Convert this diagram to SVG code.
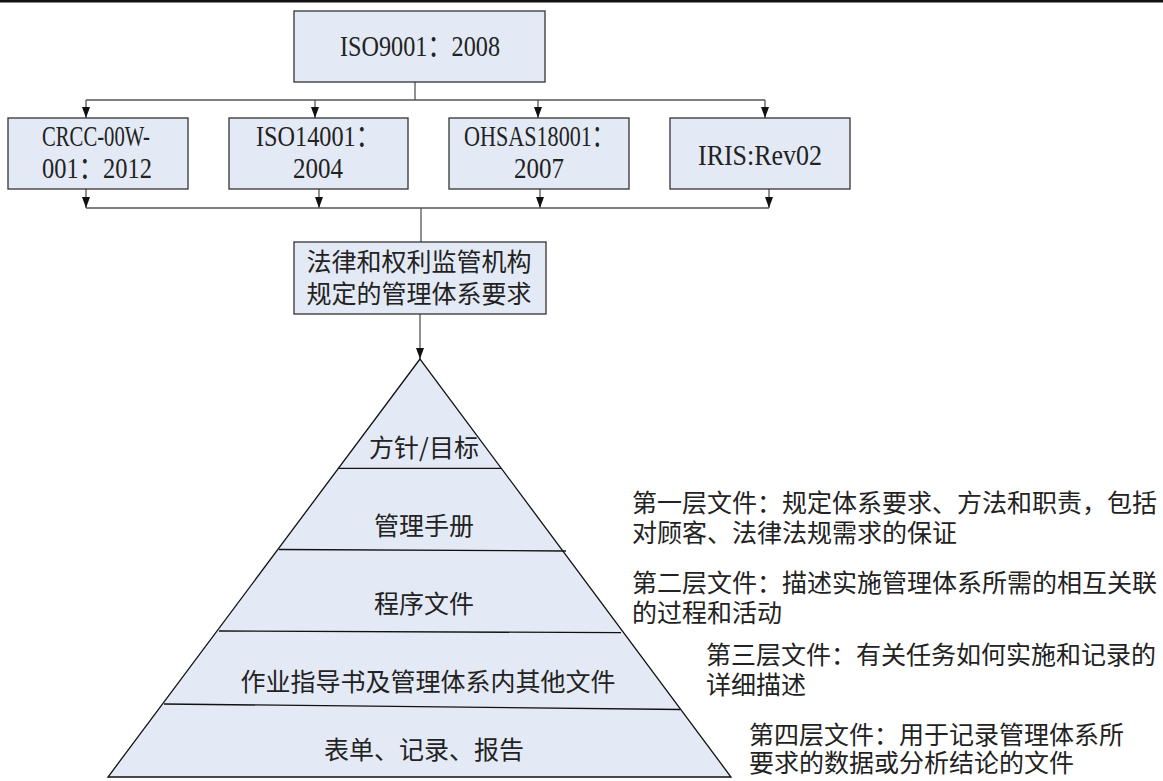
<svg xmlns="http://www.w3.org/2000/svg" width="1163" height="781" viewBox="0 0 1163 781">
<style>
.box{fill:#e4eaf5;stroke:#333;stroke-width:1.3}
.lat{font-family:"Liberation Serif","Noto Sans CJK SC",serif;font-size:30px;fill:#222;text-anchor:middle}
.cjk{font-family:"Noto Sans CJK SC","Noto Sans CJK JP",sans-serif;font-size:25px;fill:#222;text-anchor:middle}
.note{font-family:"Noto Sans CJK SC","Noto Sans CJK JP",sans-serif;font-size:25px;fill:#222}
.con{fill:none;stroke:#555;stroke-width:1.3}
.lyr{fill:none;stroke:#111;stroke-width:1.3}
</style>
<defs>
<marker id="dn" markerUnits="userSpaceOnUse" markerWidth="8" markerHeight="11" refX="4" refY="11" viewBox="0 0 8 11">
<path d="M0,0 L8,0 L4,11 z" fill="#111"/>
</marker>
</defs>
<rect width="1163" height="781" fill="#fff"/>
<line x1="0" y1="1.2" x2="1163" y2="1.2" stroke="#111" stroke-width="2.6"/>

<g id="connectors">
<path class="con" d="M415,82 V100 M86,100 H765"/>
<path class="con" d="M86,100 V118" marker-end="url(#dn)"/>
<path class="con" d="M315,100 V118" marker-end="url(#dn)"/>
<path class="con" d="M538,100 V118" marker-end="url(#dn)"/>
<path class="con" d="M765,100 V118" marker-end="url(#dn)"/>
<path class="con" d="M86,189 V208" marker-end="url(#dn)"/>
<path class="con" d="M319,189 V208" marker-end="url(#dn)"/>
<path class="con" d="M540,189 V208" marker-end="url(#dn)"/>
<path class="con" d="M769,189 V208" marker-end="url(#dn)"/>
<path class="con" d="M86,208 H769 M421,208 V242"/>
<path class="con" d="M420,314 V359" marker-end="url(#dn)"/>
</g>

<g id="n-iso9001">
<rect class="box" x="294" y="11" width="251" height="71"/>
<text class="lat" x="420" y="56" textLength="160" lengthAdjust="spacingAndGlyphs">ISO9001：2008</text>
</g>
<g id="n-crcc">
<rect class="box" x="8" y="118" width="180" height="71"/>
<text class="lat" x="96" y="146" textLength="108" lengthAdjust="spacingAndGlyphs">CRCC-00W-</text>
<text class="lat" x="97" y="178" textLength="110" lengthAdjust="spacingAndGlyphs">001：2012</text>
</g>
<g id="n-iso14001">
<rect class="box" x="229" y="118" width="179" height="71"/>
<text class="lat" x="318" y="146" textLength="124" lengthAdjust="spacingAndGlyphs">ISO14001：</text>
<text class="lat" x="318" y="178" textLength="50" lengthAdjust="spacingAndGlyphs">2004</text>
</g>
<g id="n-ohsas">
<rect class="box" x="449" y="118" width="180" height="71"/>
<text class="lat" x="539" y="146" textLength="150" lengthAdjust="spacingAndGlyphs">OHSAS18001：</text>
<text class="lat" x="539" y="178" textLength="50" lengthAdjust="spacingAndGlyphs">2007</text>
</g>
<g id="n-iris">
<rect class="box" x="670" y="118" width="180" height="71"/>
<text class="lat" x="760" y="165" textLength="124" lengthAdjust="spacingAndGlyphs">IRIS:Rev02</text>
</g>
<g id="n-law">
<rect class="box" x="294" y="242" width="252" height="72"/>
<text class="cjk" x="419" y="271">法律和权利监管机构</text>
<text class="cjk" x="419" y="303">规定的管理体系要求</text>
</g>

<g id="n-pyramid">
<polygon points="420,359 108,777 731,777" fill="#e4eaf5" stroke="#111" stroke-width="1.3"/>
<line class="lyr" x1="339" y1="468.3" x2="501" y2="468.3"/>
<line class="lyr" x1="279" y1="549.5" x2="566" y2="551"/>
<line class="lyr" x1="219" y1="631" x2="621" y2="632.7"/>
<line class="lyr" x1="164" y1="704" x2="680" y2="709.5"/>
<text class="cjk" x="424" y="457">方针/目标</text>
<text class="cjk" x="424" y="535">管理手册</text>
<text class="cjk" x="424" y="613">程序文件</text>
<text class="cjk" x="428" y="691">作业指导书及管理体系内其他文件</text>
<text class="cjk" x="424" y="759">表单、记录、报告</text>
</g>

<g id="n-notes">
<text class="note" x="632" y="512">第一层文件：规定体系要求、方法和职责，包括</text>
<text class="note" x="632" y="542">对顾客、法律法规需求的保证</text>
<text class="note" x="632" y="592">第二层文件：描述实施管理体系所需的相互关联</text>
<text class="note" x="632" y="622">的过程和活动</text>
<text class="note" x="706" y="664">第三层文件：有关任务如何实施和记录的</text>
<text class="note" x="706" y="694">详细描述</text>
<text class="note" x="749" y="744">第四层文件：用于记录管理体系所</text>
<text class="note" x="749" y="772">要求的数据或分析结论的文件</text>
</g>
</svg>
